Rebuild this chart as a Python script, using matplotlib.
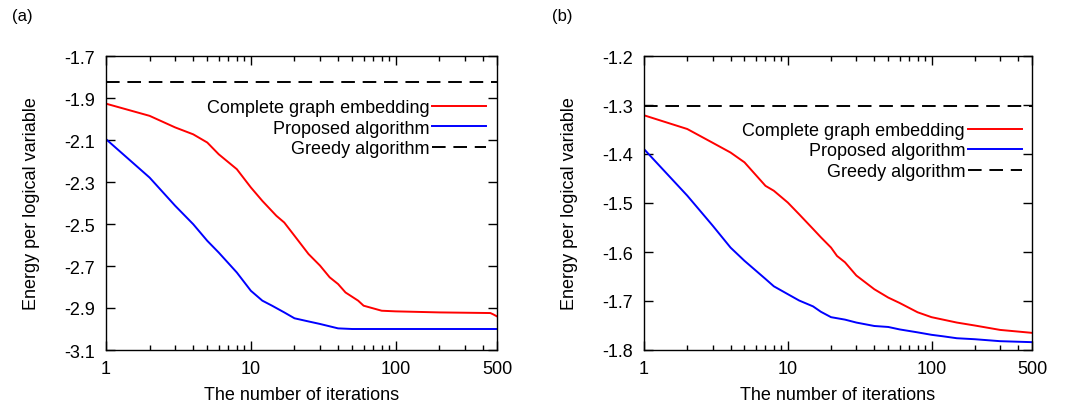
import matplotlib
matplotlib.use("Agg")
import matplotlib.pyplot as plt
from matplotlib.ticker import FixedLocator, FormatStrFormatter, NullFormatter

plt.rcParams["font.family"] = ["Liberation Sans", "DejaVu Sans"]
plt.rcParams["axes.unicode_minus"] = False

# panel (a)
a_red_x = [1, 2, 3, 4, 5, 6, 8, 10, 12, 15, 17, 20, 25, 30, 35, 40, 45, 55, 60, 80, 100, 200, 450, 470, 500]
a_red_y = [-1.927, -1.985, -2.04, -2.073, -2.112, -2.168, -2.239, -2.326, -2.39, -2.461, -2.493, -2.556,
           -2.643, -2.698, -2.754, -2.786, -2.826, -2.865, -2.889, -2.913, -2.916, -2.921, -2.924, -2.93, -2.94]
a_blue_x = [1, 2, 3, 4, 5, 6, 8, 10, 12, 14, 17, 20, 25, 30, 40, 50, 500]
a_blue_y = [-2.096, -2.279, -2.413, -2.501, -2.58, -2.636, -2.731, -2.818, -2.865, -2.889, -2.921, -2.949,
            -2.964, -2.976, -2.997, -3.0, -3.0]
a_greedy = -1.825

# panel (b)
b_red_x = [1, 2, 3, 4, 5, 7, 8, 10, 12, 15, 17, 20, 22, 25, 30, 40, 50, 60, 80, 100, 150, 200, 300, 500]
b_red_y = [-1.321, -1.349, -1.377, -1.397, -1.417, -1.465, -1.475, -1.499, -1.523, -1.553, -1.570, -1.591,
           -1.608, -1.621, -1.648, -1.676, -1.693, -1.704, -1.723, -1.733, -1.744, -1.750, -1.759, -1.765]
b_blue_x = [1, 2, 3, 4, 5, 7, 8, 10, 12, 15, 17, 20, 25, 30, 40, 50, 60, 80, 100, 120, 150, 200, 300, 500]
b_blue_y = [-1.390, -1.485, -1.546, -1.591, -1.618, -1.655, -1.670, -1.686, -1.699, -1.711, -1.722, -1.733,
            -1.738, -1.744, -1.751, -1.753, -1.758, -1.764, -1.769, -1.772, -1.776, -1.778, -1.782, -1.784]
b_greedy = -1.303

labels = ["Complete graph embedding", "Proposed algorithm", "Greedy algorithm"]
x_ticks = [1, 10, 100, 500]
a_yticks = [-1.7, -1.9, -2.1, -2.3, -2.5, -2.7, -2.9, -3.1]
b_yticks = [-1.2, -1.3, -1.4, -1.5, -1.6, -1.7, -1.8]

FS = 13


def draw(ax, rx, ry, bx, by, greedy, yticks, ylim, leg_anchor):
    ax.plot(rx, ry, color="#ff0000", lw=1.4, label=labels[0])
    ax.plot(bx, by, color="#0000ff", lw=1.4, label=labels[1])
    ax.axhline(greedy, color="black", lw=1.4, dashes=(7, 4), label=labels[2])
    ax.set_xscale("log")
    ax.set_xlim(1, 500)
    ax.set_ylim(*ylim)
    ax.xaxis.set_major_locator(FixedLocator(x_ticks))
    ax.xaxis.set_major_formatter(FormatStrFormatter("%d"))
    minors = [m * d for d in (1, 10, 100) for m in range(2, 10) if m * d < 500 and m * d not in x_ticks]
    ax.xaxis.set_minor_locator(FixedLocator(minors))
    ax.xaxis.set_minor_formatter(NullFormatter())
    ax.set_yticks(yticks)
    ax.yaxis.set_major_formatter(FormatStrFormatter("%.1f"))
    ax.tick_params(which="both", direction="in", top=True, right=True, labelsize=FS, width=1.0)
    ax.tick_params(which="major", length=6.5)
    ax.tick_params(which="minor", length=3.5)
    ax.tick_params(axis="y", pad=8)
    ax.tick_params(axis="x", pad=7)
    for s in ax.spines.values():
        s.set_linewidth(1.0)
    ax.set_xlabel("The number of iterations", fontsize=FS, labelpad=7)
    ax.set_ylabel("Energy per logical variable", fontsize=FS, labelpad=17)
    ax.legend(loc="center right", bbox_to_anchor=leg_anchor, frameon=False, markerfirst=False,
              fontsize=FS, handlelength=3.0, handletextpad=0.15, labelspacing=0.2, borderpad=0.0,
              borderaxespad=0.0)


fig = plt.figure(figsize=(10.83, 4.10), dpi=100)
ax1 = fig.add_axes([106 / 1083, 59 / 410, 391 / 1083, 294 / 410])
ax2 = fig.add_axes([644 / 1083, 59 / 410, 388 / 1083, 294 / 410])

draw(ax1, a_red_x, a_red_y, a_blue_x, a_blue_y, a_greedy, a_yticks, (-3.1, -1.7), (0.972, 0.755))
draw(ax2, b_red_x, b_red_y, b_blue_x, b_blue_y, b_greedy, b_yticks, (-1.8, -1.2), (0.974, 0.677))

fig.text(12 / 1083, 1 - 17 / 410, "(a)", fontsize=12, va="center", ha="left")
fig.text(552 / 1083, 1 - 17 / 410, "(b)", fontsize=12, va="center", ha="left")

fig.savefig("out.png", dpi=100)
